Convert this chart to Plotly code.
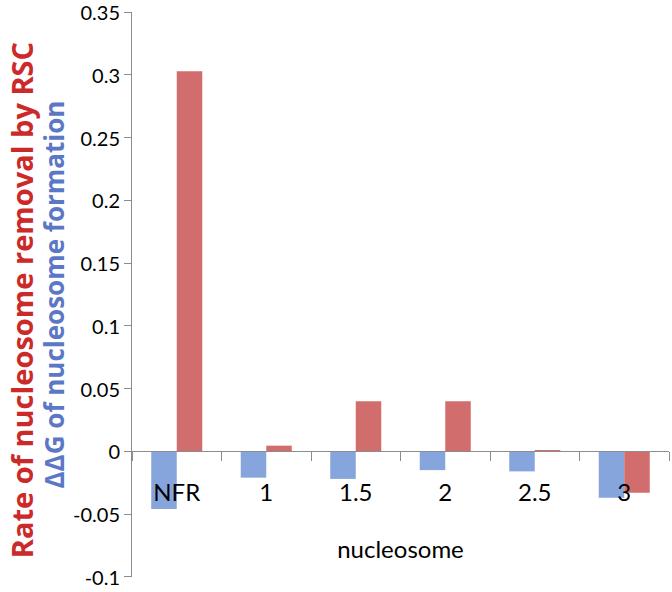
import plotly.graph_objects as go

categories = ["NFR", "1", "1.5", "2", "2.5", "3"]
ddg_values = [-0.046, -0.021, -0.022, -0.015, -0.016, -0.037]
rsc_values = [0.303, 0.0045, 0.04, 0.04, 0.0008, -0.033]
y_ticks = [-0.1, -0.05, 0, 0.05, 0.1, 0.15, 0.2, 0.25, 0.3, 0.35]
y_tick_text = ["-0.1", "-0.05", "0", "0.05", "0.1", "0.15", "0.2", "0.25", "0.3", "0.35"]

y_min, y_max = -0.1, 0.35
range_lo, range_hi = y_min - 0.0002, y_max + 0.0002
zero_pos = (0 - range_lo) / (range_hi - range_lo)

fig = go.Figure()
fig.add_trace(go.Bar(
    x=categories, y=ddg_values, name="ΔΔG of nucleosome formation",
    marker=dict(color="#86a5dc", line=dict(width=0)),
))
fig.add_trace(go.Bar(
    x=categories, y=rsc_values, name="Rate of nucleosome removal by RSC",
    marker=dict(color="#d26d6d", line=dict(width=0)),
))

plot_w = 672 - 132 - 3

fig.update_layout(
    width=672, height=592,
    margin=dict(l=132, r=3, t=12, b=15, autoexpand=False),
    paper_bgcolor="white", plot_bgcolor="white",
    barmode="group", bargap=0.43, bargroupgap=0,
    showlegend=False,
    font=dict(family="Lato", color="black"),
    xaxis=dict(
        type="category",
        anchor="free", position=zero_pos,
        automargin=False,
        showline=True, linecolor="#8c8c8c", linewidth=1,
        ticks="outside", tickson="boundaries", ticklen=9, tickcolor="#8c8c8c",
        tickfont=dict(size=24, family="Lato", color="black"),
        ticklabelstandoff=20,
        showgrid=False, zeroline=False,
        title=dict(text="nucleosome", font=dict(size=24, family="Lato", color="black"), standoff=36),
    ),
    yaxis=dict(
        range=[range_lo, range_hi],
        automargin=False,
        tickvals=y_ticks, ticktext=y_tick_text,
        ticklabeloverflow="allow",
        ticklabelshift=1,
        showline=True, linecolor="#8c8c8c", linewidth=1,
        ticks="outside", ticklen=7, tickcolor="#8c8c8c",
        tickfont=dict(size=20, family="Lato", color="black"),
        showgrid=False, zeroline=False,
    ),
    annotations=[
        dict(text="<b>Rate of nucleosome removal by RSC</b>", xref="paper", yref="paper",
             x=(21 - 132) / plot_w, y=0.49, xanchor="center", yanchor="middle",
             textangle=-90, showarrow=False,
             font=dict(size=29, family="Open Sans", color="#cc2a2a")),
        dict(text="<b>ΔΔG of nucleosome formation</b>", xref="paper", yref="paper",
             x=(53 - 132) / plot_w, y=0.50, xanchor="center", yanchor="middle",
             textangle=-90, showarrow=False,
             font=dict(size=26, family="Open Sans", color="#5b78c6")),
    ],
)

fig.write_html("out.html", config={"displayModeBar": False},
               post_script="document.body.style.margin='0';")
